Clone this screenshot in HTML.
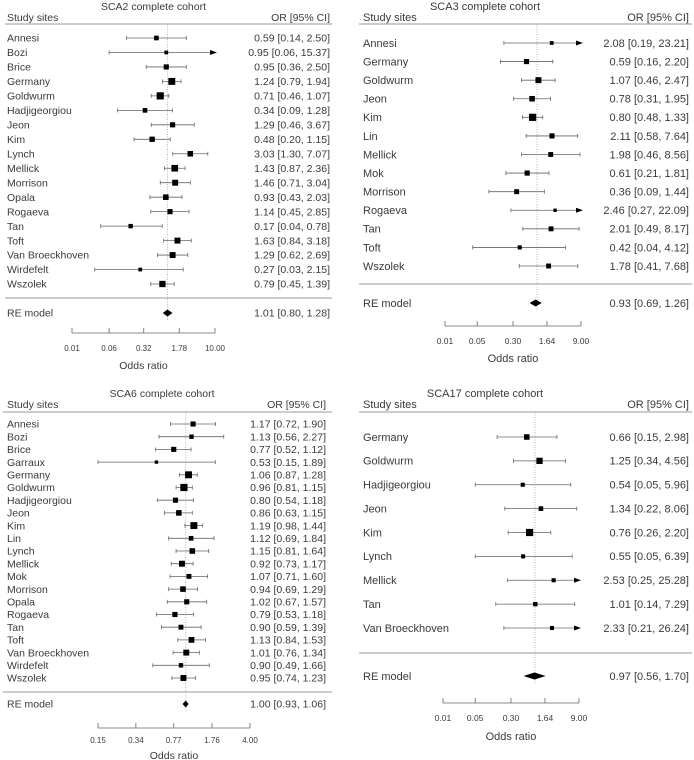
<!DOCTYPE html>
<html><head><meta charset="utf-8"><style>
html,body{margin:0;padding:0;background:#fff;}
svg{display:block;font-family:"Liberation Sans",sans-serif;}
</style></head><body>
<svg id="chart" width="694" height="760" viewBox="0 0 694 760" xmlns="http://www.w3.org/2000/svg"></svg>
<script>
// SCA2
const sca2Sites=["Annesi","Bozi","Brice","Germany","Goldwurm","Hadjigeorgiou","Jeon","Kim","Lynch","Mellick","Morrison","Opala","Rogaeva","Tan","Toft","Van Broeckhoven","Wirdefelt","Wszolek"];
const sca2OR=[0.59,0.95,0.95,1.24,0.71,0.34,1.29,0.48,3.03,1.43,1.46,0.93,1.14,0.17,1.63,1.29,0.27,0.79];
const sca2Lo=[0.14,0.06,0.36,0.79,0.46,0.09,0.46,0.20,1.30,0.87,0.71,0.43,0.45,0.04,0.84,0.62,0.03,0.45];
const sca2Hi=[2.50,15.37,2.50,1.94,1.07,1.28,3.67,1.15,7.07,2.36,3.04,2.03,2.85,0.78,3.18,2.69,2.15,1.39];
const sca2Wt=[3,1.5,4,9,10,3,4,4.5,5,8,6,5,4,2.5,6,6,1.5,7];
const sca2RE=[1.01,0.80,1.28];
const sca2Ticks=[0.01,0.06,0.32,1.78,10.00];
// SCA3
const sca3Sites=["Annesi","Germany","Goldwurm","Jeon","Kim","Lin","Mellick","Mok","Morrison","Rogaeva","Tan","Toft","Wszolek"];
const sca3OR=[2.08,0.59,1.07,0.78,0.80,2.11,1.98,0.61,0.36,2.46,2.01,0.42,1.78];
const sca3Lo=[0.19,0.16,0.46,0.31,0.48,0.58,0.46,0.21,0.09,0.27,0.49,0.04,0.41];
const sca3Hi=[23.21,2.20,2.47,1.95,1.33,7.64,8.56,1.81,1.44,22.09,8.17,4.12,7.68];
const sca3Wt=[1.5,4,6,5,10,4,3.5,4,3.5,1,3.5,2,3.5];
const sca3RE=[0.93,0.69,1.26];
const sca3Ticks=[0.01,0.05,0.30,1.64,9.00];
// SCA6
const sca6Sites=["Annesi","Bozi","Brice","Garraux","Germany","Goldwurm","Hadjigeorgiou","Jeon","Kim","Lin","Lynch","Mellick","Mok","Morrison","Opala","Rogaeva","Tan","Toft","Van Broeckhoven","Wirdefelt","Wszolek"];
const sca6OR=[1.17,1.13,0.77,0.53,1.06,0.96,0.80,0.86,1.19,1.12,1.15,0.92,1.07,0.94,1.02,0.79,0.90,1.13,1.01,0.90,0.95];
const sca6Lo=[0.72,0.56,0.52,0.15,0.87,0.81,0.54,0.63,0.98,0.69,0.81,0.73,0.71,0.69,0.67,0.53,0.59,0.84,0.76,0.49,0.74];
const sca6Hi=[1.90,2.27,1.12,1.89,1.28,1.15,1.18,1.15,1.44,1.84,1.64,1.17,1.60,1.29,1.57,1.18,1.39,1.53,1.34,1.66,1.23];
const sca6Wt=[4,2.5,4,1,9,10,4,5,9,3,5,6,3.5,5,4,4,3.5,5.5,6,2.5,6];
const sca6RE=[1.00,0.93,1.06];
const sca6Ticks=[0.15,0.34,0.77,1.76,4.00];
// SCA17
const sca17Sites=["Germany","Goldwurm","Hadjigeorgiou","Jeon","Kim","Lynch","Mellick","Tan","Van Broeckhoven"];
const sca17OR=[0.66,1.25,0.54,1.34,0.76,0.55,2.53,1.01,2.33];
const sca17Lo=[0.15,0.34,0.05,0.22,0.26,0.05,0.25,0.14,0.21];
const sca17Hi=[2.98,4.56,5.96,8.06,2.20,6.39,25.28,7.29,26.24];
const sca17Wt=[5,7,2,3,10,2,2,2.5,2];
const sca17RE=[0.97,0.56,1.70];
const sca17Ticks=[0.01,0.05,0.30,1.64,9.00];

const NS="http://www.w3.org/2000/svg";
const svg=document.getElementById("chart");
function mk(tag,attrs,parent){const e=document.createElementNS(NS,tag);for(const k in attrs)e.setAttribute(k,attrs[k]);(parent||svg).appendChild(e);return e;}
function txt(s,x,y,anchor,size,parent){const t=mk("text",{x:x,y:y,"text-anchor":anchor,"font-size":size,fill:"#3a3a3a"},parent);t.textContent=s;return t;}
function f2(v){return v.toFixed(2);}

function panel(cfg){
  const g=mk("g",{});
  
  
  const lmin=Math.log(cfg.ticks[0]),lmax=Math.log(cfg.ticks[cfg.ticks.length-1]);
  const X=v=>cfg.ax0+(Math.log(v)-lmin)/(lmax-lmin)*(cfg.ax1-cfg.ax0);
  const fs=cfg.fs;
  const t=txt(cfg.title,(cfg.ax0+cfg.ax1)/2+cfg.titleDx,cfg.titleY,"middle",fs,g);
  
  
  const h1=txt("Study sites",cfg.nameX,cfg.headY,"start",fs,g);
  
  
  const h2=txt("OR [95% CI]",cfg.rightX,cfg.headY,"end",fs,g);
  
  
  mk("line",{x1:cfg.lineX0,x2:cfg.lineX1,y1:cfg.headLine,y2:cfg.headLine,stroke:"#bbb","stroke-width":1.5},g);
  mk("line",{x1:cfg.lineX0,x2:cfg.lineX1,y1:cfg.sepY,y2:cfg.sepY,stroke:"#bbb","stroke-width":1.5},g);
  const rl=mk("line",{x1:X(1),x2:X(1),y1:cfg.headLine,y2:cfg.reY+8,stroke:"#999","stroke-width":0.7,"stroke-dasharray":"1,1.5"},g);
  
  
  const n=cfg.sites.length;
  const step=(cfg.lastY-cfg.firstY)/(n-1);
  const maxW=Math.max(...cfg.wt);
  for(let i=0;i<n;i++){
    const y=cfg.firstY+i*step;
    const row=mk("g",{},g);
    
    
    txt(cfg.sites[i],cfg.nameX,y+fs*0.35,"start",fs,row);
    txt(f2(cfg.or[i])+" ["+f2(cfg.lo[i])+", "+f2(cfg.hi[i])+"]",cfg.rightX,y+fs*0.35,"end",fs,row);
    const amax=cfg.ticks[cfg.ticks.length-1];
    const hiC=Math.min(cfg.hi[i],amax), loC=Math.max(cfg.lo[i],cfg.ticks[0]);
    const x1=X(loC),x2=X(hiC);
    mk("line",{x1:x1,x2:x2,y1:y,y2:y,stroke:"#666","stroke-width":0.8},row);
    if(cfg.lo[i]>=cfg.ticks[0]) mk("line",{x1:x1,x2:x1,y1:y-2,y2:y+2,stroke:"#666","stroke-width":0.8},row);
    if(cfg.hi[i]<=amax) mk("line",{x1:x2,x2:x2,y1:y-2,y2:y+2,stroke:"#666","stroke-width":0.8},row);
    else mk("polygon",{points:(x2+2)+","+y+" "+(x2-5)+","+(y-2.5)+" "+(x2-5)+","+(y+2.5),fill:"#000"},row);
    const s=0.8+Math.sqrt(cfg.wt[i]/maxW)*cfg.boxMax;
    const b=mk("rect",{x:X(cfg.or[i])-s,y:y-s,width:2*s,height:2*s,fill:"#000"},row);
    
    
  }
  const re=mk("g",{},g);
  
  
  txt("RE model",cfg.nameX,cfg.reY+fs*0.35,"start",fs,re);
  txt(f2(cfg.re[0])+" ["+f2(cfg.re[1])+", "+f2(cfg.re[2])+"]",cfg.rightX,cfg.reY+fs*0.35,"end",fs,re);
  const y=cfg.reY;
  const d=mk("polygon",{points:X(cfg.re[1])+","+y+" "+X(cfg.re[0])+","+(y-3.5)+" "+X(cfg.re[2])+","+y+" "+X(cfg.re[0])+","+(y+3.5),fill:"#000"},re);
  
  
  const ax=mk("g",{},g);
  
  
  mk("line",{x1:cfg.ax0,x2:cfg.ax1,y1:cfg.axY,y2:cfg.axY,stroke:"#666","stroke-width":0.8},ax);
  cfg.ticks.forEach(v=>{
    const x=X(v);
    mk("line",{x1:x,x2:x,y1:cfg.axY,y2:cfg.axY-5,stroke:"#666","stroke-width":0.8},ax);
    const tl=txt(f2(v),x,cfg.tickY,"middle",fs-2.5,ax);
    
    
  });
  const xt=txt("Odds ratio",(cfg.ax0+cfg.ax1)/2,cfg.titleXY,"middle",fs,ax);
  
  
}

panel({id:"sca2-forest-plot",title:"SCA2 complete cohort",titleDx:10,titleY:10,headY:21,headLine:24,sepY:298,
  nameX:7,rightX:330,lineX0:5,lineX1:332,firstY:38,lastY:284,reY:313,axY:333,tickY:351,titleXY:369,ax0:72,ax1:215,fs:10.5,boxMax:2.8,
  sites:sca2Sites,or:sca2OR,lo:sca2Lo,hi:sca2Hi,wt:sca2Wt,re:sca2RE,ticks:sca2Ticks});
panel({id:"sca3-forest-plot",title:"SCA3 complete cohort",titleDx:-28,titleY:10,headY:21,headLine:24,sepY:284,
  nameX:363,rightX:689,lineX0:359,lineX1:692,firstY:43,lastY:266,reY:303,axY:326,tickY:344,titleXY:362,ax0:445,ax1:581,fs:11,boxMax:2.8,
  sites:sca3Sites,or:sca3OR,lo:sca3Lo,hi:sca3Hi,wt:sca3Wt,re:sca3RE,ticks:sca3Ticks});
panel({id:"sca6-forest-plot",title:"SCA6 complete cohort",titleDx:-12,titleY:397,headY:408,headLine:412,sepY:692,
  nameX:7,rightX:326,lineX0:3,lineX1:332,firstY:424,lastY:678,reY:704,axY:728,tickY:743,titleXY:759,ax0:98,ax1:250,fs:10.5,boxMax:2.8,
  sites:sca6Sites,or:sca6OR,lo:sca6Lo,hi:sca6Hi,wt:sca6Wt,re:sca6RE,ticks:sca6Ticks});
panel({id:"sca17-forest-plot",title:"SCA17 complete cohort",titleDx:-26,titleY:397,headY:408,headLine:412,sepY:653,
  nameX:363,rightX:689,lineX0:359,lineX1:692,firstY:437,lastY:628,reY:676,axY:703,tickY:721,titleXY:740,ax0:443,ax1:579,fs:11,boxMax:2.8,
  sites:sca17Sites,or:sca17OR,lo:sca17Lo,hi:sca17Hi,wt:sca17Wt,re:sca17RE,ticks:sca17Ticks});
</script>
</body></html>
